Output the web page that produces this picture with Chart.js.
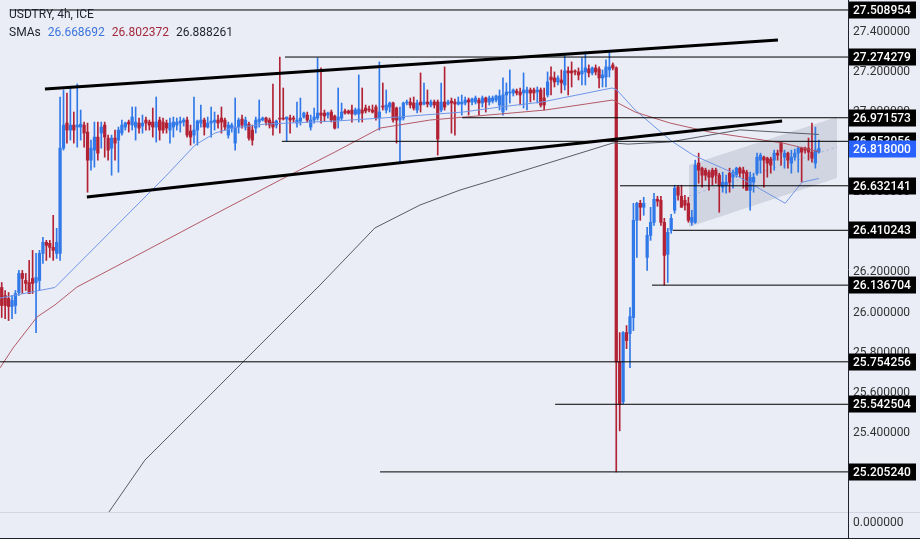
<!DOCTYPE html>
<html>
<head>
<meta charset="utf-8">
<title>USDTRY, 4h</title>
<script src="https://cdn.jsdelivr.net/npm/chart.js@4.4.1/dist/chart.umd.min.js"></script>
<style>
  html, body { margin: 0; padding: 0; background: #eaedf6; }
</style>
</head>
<body>
<canvas id="c" width="920" height="539"></canvas>
<script>
/* ---------- 데이터 (4h 캔들, 인덱스 0..238) ---------- */
const OPEN = [
  26.125,26.085,26.07,26.03,26.035,26.1,26.195,26.16,26.15,26.17,
  26.15,26.16,26.295,26.35,26.345,26.325,26.295,26.295,26.82,26.945,
  26.91,26.935,26.925,26.925,26.935,26.9,26.76,26.81,26.875,26.895,
  26.935,26.87,26.82,26.87,26.86,26.895,26.925,26.95,26.935,26.925,
  26.945,26.93,26.96,26.95,26.95,26.925,26.96,26.95,26.945,26.91,
  26.925,26.935,26.945,26.95,26.96,26.905,26.885,26.91,26.945,26.96,
  26.925,26.945,26.95,26.96,26.97,26.96,26.885,26.92,26.845,26.925,
  26.965,26.925,26.94,26.91,26.92,26.95,26.96,26.97,26.96,26.95,
  26.935,26.97,26.97,26.965,26.97,26.97,26.945,26.955,26.975,26.985,
  26.925,26.96,26.97,26.995,26.995,26.985,27.0,26.98,26.96,26.97,
  27.005,27.005,27.01,26.99,26.99,27.01,27.02,27.015,27.01,27.025,
  26.97,27.03,27.01,27.025,27.045,27.02,26.96,26.97,27.045,27.05,
  27.045,27.01,27.05,27.04,27.05,27.035,27.05,27.05,27.01,27.05,
  27.04,27.055,27.05,27.04,27.04,27.045,27.06,27.05,27.05,27.06,
  27.045,27.07,27.05,27.055,27.06,27.035,27.0,27.085,27.095,27.095,
  27.105,27.1,27.095,27.095,27.11,27.11,27.1,27.11,27.07,27.085,
  27.175,27.17,27.15,27.16,27.135,27.205,27.205,27.205,27.2,27.19,
  27.2,27.215,27.195,27.22,27.215,27.17,27.175,27.21,27.235,27.22,
  25.754,25.555,25.9,25.895,25.975,26.46,26.545,26.525,26.275,26.385,
  26.45,26.565,26.56,26.45,26.29,26.41,26.51,26.625,26.58,26.56,
  26.545,26.45,26.45,26.745,26.72,26.71,26.7,26.71,26.71,26.685,
  26.625,26.635,26.695,26.675,26.685,26.72,26.71,26.7,26.61,26.65,
  26.695,26.76,26.775,26.77,26.765,26.76,26.795,26.845,26.775,26.795,
  26.745,26.775,26.795,26.82,26.82,26.82,26.8,26.745,26.8
];
const HIGH = [
  26.15,26.11,26.1,26.085,26.11,26.21,26.21,26.195,26.26,26.31,
  26.295,26.31,26.375,26.36,26.36,26.485,26.42,27.075,27.11,27.095,
  27.12,27.0,27.14,27.01,26.95,26.945,26.86,26.95,26.95,26.95,
  26.95,26.885,26.885,26.91,26.925,26.96,26.95,26.96,27.025,27.025,
  26.97,26.985,26.975,26.96,27.02,27.075,26.975,26.97,26.96,26.97,
  26.975,26.97,26.975,26.97,26.975,26.935,27.075,26.96,27.035,26.97,
  26.975,27.025,27.0,26.985,27.025,26.97,26.95,26.945,27.07,26.97,
  26.985,26.975,26.95,26.935,26.975,27.06,26.975,26.975,26.97,27.14,
  26.96,27.274,27.12,26.975,26.985,26.98,27.05,27.07,27.0,27.0,
  26.985,27.02,27.27,27.22,27.01,27.0,27.01,26.985,27.12,27.045,
  27.015,27.01,27.035,27.02,27.185,27.12,27.035,27.03,27.035,27.035,
  27.25,27.145,27.11,27.05,27.05,27.025,27.025,27.05,27.06,27.07,
  27.075,27.06,27.195,27.145,27.11,27.06,27.06,27.06,27.145,27.225,
  27.06,27.07,27.065,27.075,27.085,27.075,27.07,27.07,27.08,27.07,
  27.08,27.075,27.08,27.08,27.085,27.11,27.17,27.145,27.21,27.115,
  27.115,27.12,27.195,27.125,27.12,27.12,27.125,27.12,27.12,27.2,
  27.225,27.2,27.18,27.21,27.285,27.225,27.25,27.21,27.22,27.27,
  27.3,27.235,27.225,27.235,27.225,27.21,27.26,27.3,27.245,27.225,
  25.9,25.905,25.935,26.025,26.545,26.55,26.56,26.575,26.425,26.525,
  26.595,26.58,26.58,26.47,26.42,26.49,26.635,26.635,26.635,26.585,
  26.575,26.51,26.76,26.795,26.725,26.72,26.71,26.72,26.72,26.695,
  26.7,26.685,26.72,26.71,26.725,26.725,26.725,26.71,26.7,26.695,
  26.795,26.795,26.78,26.775,26.775,26.81,26.81,26.85,26.81,26.8,
  26.81,26.815,26.825,26.825,26.825,26.87,26.945,26.925,26.86
];
const LOW = [
  25.975,25.97,25.96,25.97,25.995,26.085,26.095,26.11,26.095,26.095,
  25.9,26.11,26.245,26.26,26.275,26.26,26.27,26.26,26.81,26.845,
  26.86,26.845,26.825,26.86,26.825,26.6,26.71,26.725,26.76,26.82,
  26.775,26.76,26.685,26.76,26.7,26.885,26.91,26.9,26.91,26.86,
  26.895,26.895,26.91,26.91,26.875,26.85,26.86,26.895,26.895,26.845,
  26.875,26.91,26.9,26.93,26.875,26.835,26.845,26.835,26.925,26.885,
  26.92,26.875,26.91,26.92,26.895,26.91,26.87,26.9,26.81,26.895,
  26.92,26.91,26.86,26.835,26.895,26.925,26.955,26.935,26.92,26.885,
  26.92,26.895,26.96,26.854,26.895,26.95,26.925,26.935,26.97,26.95,
  26.91,26.945,26.96,26.945,26.955,26.97,26.95,26.915,26.92,26.96,
  26.99,26.99,26.95,26.985,26.95,26.95,26.995,27.0,26.995,26.96,
  26.91,27.01,26.995,27.0,26.95,26.845,26.745,26.96,27.035,27.02,
  27.01,26.995,27.0,27.035,27.025,27.025,27.02,26.785,27.0,27.01,
  27.035,26.895,26.885,27.035,26.985,27.035,26.985,27.035,27.04,26.985,
  27.025,27.0,27.035,27.045,27.05,27.01,26.985,27.01,27.045,27.08,
  27.085,27.035,27.02,27.01,27.05,27.06,27.045,27.025,27.01,27.075,
  27.085,27.125,27.135,27.095,27.11,27.085,27.125,27.185,27.16,27.135,
  27.135,27.175,27.185,27.185,27.12,27.125,27.125,27.175,27.21,25.20524,
  25.41,25.545,25.82,25.725,25.91,26.275,26.46,26.485,26.21,26.36,
  26.435,26.53,26.435,26.137,26.15,26.395,26.495,26.56,26.525,26.51,
  26.45,26.435,26.445,26.645,26.625,26.66,26.61,26.635,26.645,26.5,
  26.6,26.595,26.6,26.62,26.675,26.675,26.62,26.61,26.51,26.6,
  26.685,26.695,26.625,26.675,26.695,26.71,26.76,26.735,26.72,26.72,
  26.695,26.76,26.7,26.65,26.795,26.76,26.75,26.72,26.795
];
const CLOSE = [
  26.035,26.035,26.03,26.06,26.095,26.195,26.17,26.145,26.095,26.145,
  26.175,26.295,26.35,26.335,26.325,26.31,26.35,26.82,26.935,26.91,
  26.935,26.91,26.935,26.94,26.895,26.76,26.82,26.875,26.795,26.925,
  26.875,26.81,26.87,26.845,26.91,26.935,26.945,26.94,26.975,26.95,
  26.92,26.945,26.945,26.935,26.925,26.95,26.91,26.91,26.92,26.945,
  26.95,26.95,26.955,26.96,26.885,26.875,26.91,26.955,26.96,26.925,
  26.945,26.955,26.96,26.945,26.95,26.925,26.935,26.935,26.925,26.96,
  26.935,26.96,26.87,26.86,26.96,26.965,26.97,26.95,26.935,26.925,
  26.955,26.965,26.965,26.975,26.96,26.965,26.96,26.97,26.995,26.96,
  26.96,26.975,26.995,26.985,26.98,26.995,26.96,26.92,26.975,27.0,
  26.995,26.995,26.99,27.01,27.015,26.995,27.005,27.01,27.0,26.97,
  27.0,27.025,27.035,27.045,26.96,26.96,26.975,27.045,27.05,27.035,
  27.02,27.045,27.035,27.05,27.04,27.05,27.035,26.865,27.05,27.025,
  27.05,27.045,27.04,27.05,27.05,27.06,27.05,27.065,27.07,27.045,
  27.07,27.05,27.07,27.07,27.08,27.08,27.085,27.1,27.1,27.11,
  27.095,27.085,27.11,27.11,27.095,27.095,27.11,27.035,27.035,27.15,
  27.16,27.15,27.17,27.145,27.205,27.195,27.195,27.2,27.185,27.205,
  27.22,27.195,27.22,27.2,27.17,27.185,27.225,27.225,27.22,25.754,
  25.545,25.9,25.86,25.98,26.46,26.545,26.525,26.545,26.385,26.45,
  26.565,26.555,26.45,26.285,26.4,26.47,26.62,26.585,26.525,26.535,
  26.46,26.475,26.735,26.71,26.685,26.685,26.675,26.675,26.685,26.635,
  26.65,26.65,26.65,26.7,26.72,26.695,26.695,26.61,26.675,26.675,
  26.775,26.785,26.76,26.745,26.735,26.795,26.785,26.8,26.795,26.76,
  26.775,26.795,26.82,26.8,26.81,26.8,26.77,26.81,26.818
];

// 이동평균 (인덱스, 값)
const SMA_FAST = [[-0.5,26.072],[15.5,26.125],[47.6,26.677],[56.3,26.835],[62.1,26.895],[67.1,26.92],[76.7,26.94],[97.1,26.955],[115.1,26.975],[134.4,27.0],[145.1,27.025],[157.4,27.05],[177.8,27.12],[179.2,27.11],[184.5,27.01],[194.7,26.86],[201.4,26.785],[211.3,26.71],[228.2,26.545],[233.1,26.65],[238,26.668692]];
const SMA_MID = [[-0.5,25.724],[3.3,25.823],[10.3,25.978],[15.5,26.038],[21.9,26.127],[49,26.372],[57.8,26.452],[81.1,26.661],[97.1,26.801],[110.2,26.92],[124.7,26.96],[145.1,26.99],[158.3,27.01],[178,27.06],[179.5,27.045],[184.5,27.0],[194.7,26.945],[206.3,26.9],[227.6,26.845],[238,26.802372]];
const SMA_SLOW = [[29,24.95],[41.7,25.264],[57.8,25.539],[75.2,25.838],[92.7,26.137],[108.7,26.422],[121.8,26.536],[133.5,26.611],[145.1,26.671],[178.1,26.846],[182.4,26.84],[194.7,26.851],[215,26.911],[238,26.888261]];
const SMA_LAST = ['26.668692','26.802372','26.888261'];

// 수평 레벨 & 시작 인덱스
const LEVELS     = [27.508954, 27.274279, 26.971573, 26.853956, 26.632141, 26.410243, 26.136704, 25.754256, 25.542504, 25.205240];
const LEVEL_FROM = [2.4, 82.5, 134.1, 81.6, 180.1, 195.5, 189.4, -0.5, 161.2, 110.2];
const LAST_PRICE = 26.818;

// 추세선 & 채널
const TREND_TOP = [[12.6,27.115],[226.1,27.359]];
const TREND_BOT = [[24.8,26.576],[227.3,26.955]];
const CHAN_TOP  = [[200.2,26.736],[243.3,26.975]];
const CHAN_BOT  = [[200.2,26.427],[243.3,26.671]];
const CHAN_MID  = [[200.2,26.581],[243.3,26.826]];

const TICKS = [25.4,25.6,25.8,26.0,26.2,26.4,26.6,26.8,27.0,27.2,27.4];

/* ---------- 스타일 ---------- */
const BG = '#eaedf6';
const UP = '#3179e8', DOWN = '#b22234';
const INK = '#1e222d';
Chart.defaults.font.family = 'Roboto, "Noto Sans", sans-serif';

const idx = OPEN.map((_, i) => i);
const candleColor = idx.map(i => CLOSE[i] >= OPEN[i] ? UP : DOWN);

const pts = arr => arr.map(([x, y]) => ({x, y}));
const line = (data, color, width, order, extra) => Object.assign({
  type: 'line', data: pts(data), borderColor: color, borderWidth: width,
  pointRadius: 0, tension: 0, fill: false, order
}, extra || {});

const datasets = [
  line(CHAN_TOP, 'rgba(0,0,0,0)', 0, 9, { fill: '+1', backgroundColor: 'rgba(140,146,165,0.26)' }),
  line(CHAN_BOT, 'rgba(0,0,0,0)', 0, 9),
  line(CHAN_MID, '#a6b5da', 1, 8, { borderDash: [2, 3] }),
  { type: 'bar', data: idx.map(i => ({x: i, y: [LOW[i], HIGH[i]]})), backgroundColor: candleColor,
    barThickness: 1, grouped: false, borderWidth: 0, order: 6 },
  { type: 'bar', data: idx.map(i => ({x: i, y: [OPEN[i], CLOSE[i]]})), backgroundColor: candleColor,
    barThickness: 2.6, minBarLength: 1, grouped: false, borderWidth: 0, order: 5 },
  line(SMA_SLOW, '#585c66', 1, 4),
  line(SMA_MID, '#b35a66', 1, 4),
  line(SMA_FAST, '#7096e6', 1, 4),
  ...LEVELS.map((v, k) => line([[LEVEL_FROM[k], v], [246.5, v]], '#000', 1, 2)),
  line(TREND_TOP, '#000', 3, 1),
  line(TREND_BOT, '#000', 3, 1)
];

/* ---------- 장식 플러그인 (배경, 축 라벨 박스, 헤더) ---------- */
const decor = {
  id: 'decor',
  beforeDraw(chart){
    const c = chart.ctx;
    c.save(); c.fillStyle = BG; c.fillRect(0, 0, chart.width, chart.height); c.restore();
  },
  afterDraw(chart){
    const c = chart.ctx, ys = chart.scales.y, a = chart.chartArea;
    c.save();
    // 하단 패널 구분선
    c.strokeStyle = '#d2d6e0'; c.lineWidth = 1;
    c.beginPath(); c.moveTo(0, a.bottom + 0.5); c.lineTo(chart.width, a.bottom + 0.5); c.stroke();
    c.strokeStyle = INK;
    c.beginPath(); c.moveTo(0, chart.height - 0.5); c.lineTo(chart.width, chart.height - 0.5); c.stroke();
    c.beginPath(); c.moveTo(a.right + 0.5, 0); c.lineTo(a.right + 0.5, chart.height); c.stroke();

    c.font = '12px Roboto';
    c.textBaseline = 'middle';
    c.fillStyle = '#333';
    c.fillText('0.000000', a.right + 5, a.bottom + 11);

    // 가격 박스
    const box = (v, bg) => {
      const py = Math.round(ys.getPixelForValue(v));
      c.fillStyle = bg;
      c.fillRect(a.right + 1, py - 8.5, 67, 17);
      c.fillStyle = '#fff';
      c.font = '500 12px Roboto';
      c.fillText(v.toFixed(6), a.right + 5, py + 0.5);
    };
    LEVELS.forEach(v => box(v, '#000'));
    box(LAST_PRICE, '#2962ff');

    // 헤더
    c.font = '12px Roboto';
    c.fillStyle = INK;
    c.fillText('USDTRY, 4h, ICE', 9, 15);
    let x = 9;
    c.fillText('SMAs', x, 33);
    x += c.measureText('SMAs').width + 7;
    ['#3c74dc', '#a32a3c', INK].forEach((col, k) => {
      c.fillStyle = col;
      c.fillText(SMA_LAST[k], x, 33);
      x += c.measureText(SMA_LAST[k]).width + 7;
    });
    c.restore();
  }
};

new Chart(document.getElementById('c').getContext('2d'), {
  type: 'bar',
  data: { datasets },
  options: {
    responsive: false,
    animation: false,
    events: [],
    layout: { padding: { left: 0, right: 0, top: 0, bottom: 27 } },
    plugins: { legend: { display: false }, tooltip: { enabled: false } },
    scales: {
      x: { type: 'linear', min: -0.5, max: 246.5, offset: false, display: false },
      y: {
        position: 'right', min: 25.0052, max: 27.5588,
        grid: { display: false, drawTicks: false },
        border: { display: false },
        afterBuildTicks: s => { s.ticks = TICKS.map(v => ({ value: v })); },
        afterFit: s => { s.width = 72; s.paddingTop = 0; s.paddingBottom = 0; },
        ticks: { autoSkip: false, padding: 5, color: '#333', font: { size: 12 },
                 callback: v => Number(v).toFixed(6) }
      }
    }
  },
  plugins: [decor]
});
</script>
</body>
</html>
